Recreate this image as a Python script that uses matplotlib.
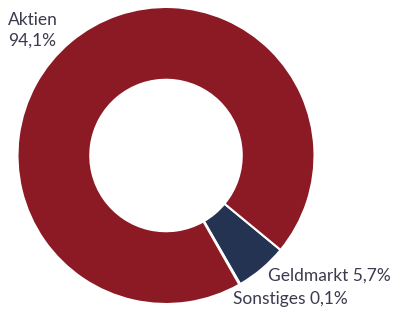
import matplotlib.pyplot as plt

plt.rcParams['font.family'] = ['Lato', 'DejaVu Sans']

labels = ['Geldmarkt', 'Sonstiges', 'Aktien']
values = [5.7, 0.1, 94.1]
colors = ['#243352', '#7f7f7f', '#8b1a24']
label_text = ['Geldmarkt 5,7%', 'Sonstiges 0,1%', 'Aktien\n94,1%']

W, H = 393, 310
fig = plt.figure(figsize=(W / 100, H / 100), dpi=100)

# pie box in pixels: centre (166, 155.5), radius 148.5
cx, cy, r = 166, 155.5, 148.5
ax = fig.add_axes([(cx - r) / W, (H - cy - r) / H, 2 * r / W, 2 * r / H])
ax.pie(values, colors=colors, startangle=-39.5, counterclock=False, radius=1,
       wedgeprops=dict(width=0.49, edgecolor='white', linewidth=1.5))
ax.set_xlim(-1, 1)
ax.set_ylim(-1, 1)
ax.set_aspect('equal')
ax.axis('off')

txt_color = '#3b3b4f'
fs = 12.5
fig.text(8 / W, 1 - 46 / H, label_text[2], fontsize=fs, color=txt_color,
         ha='left', va='baseline', linespacing=1.35)
fig.text(268 / W, 1 - 281 / H, label_text[0], fontsize=fs, color=txt_color,
         ha='left', va='baseline')
fig.text(233 / W, 1 - 304 / H, label_text[1], fontsize=fs, color=txt_color,
         ha='left', va='baseline')

fig.savefig('out.png', dpi=100)
